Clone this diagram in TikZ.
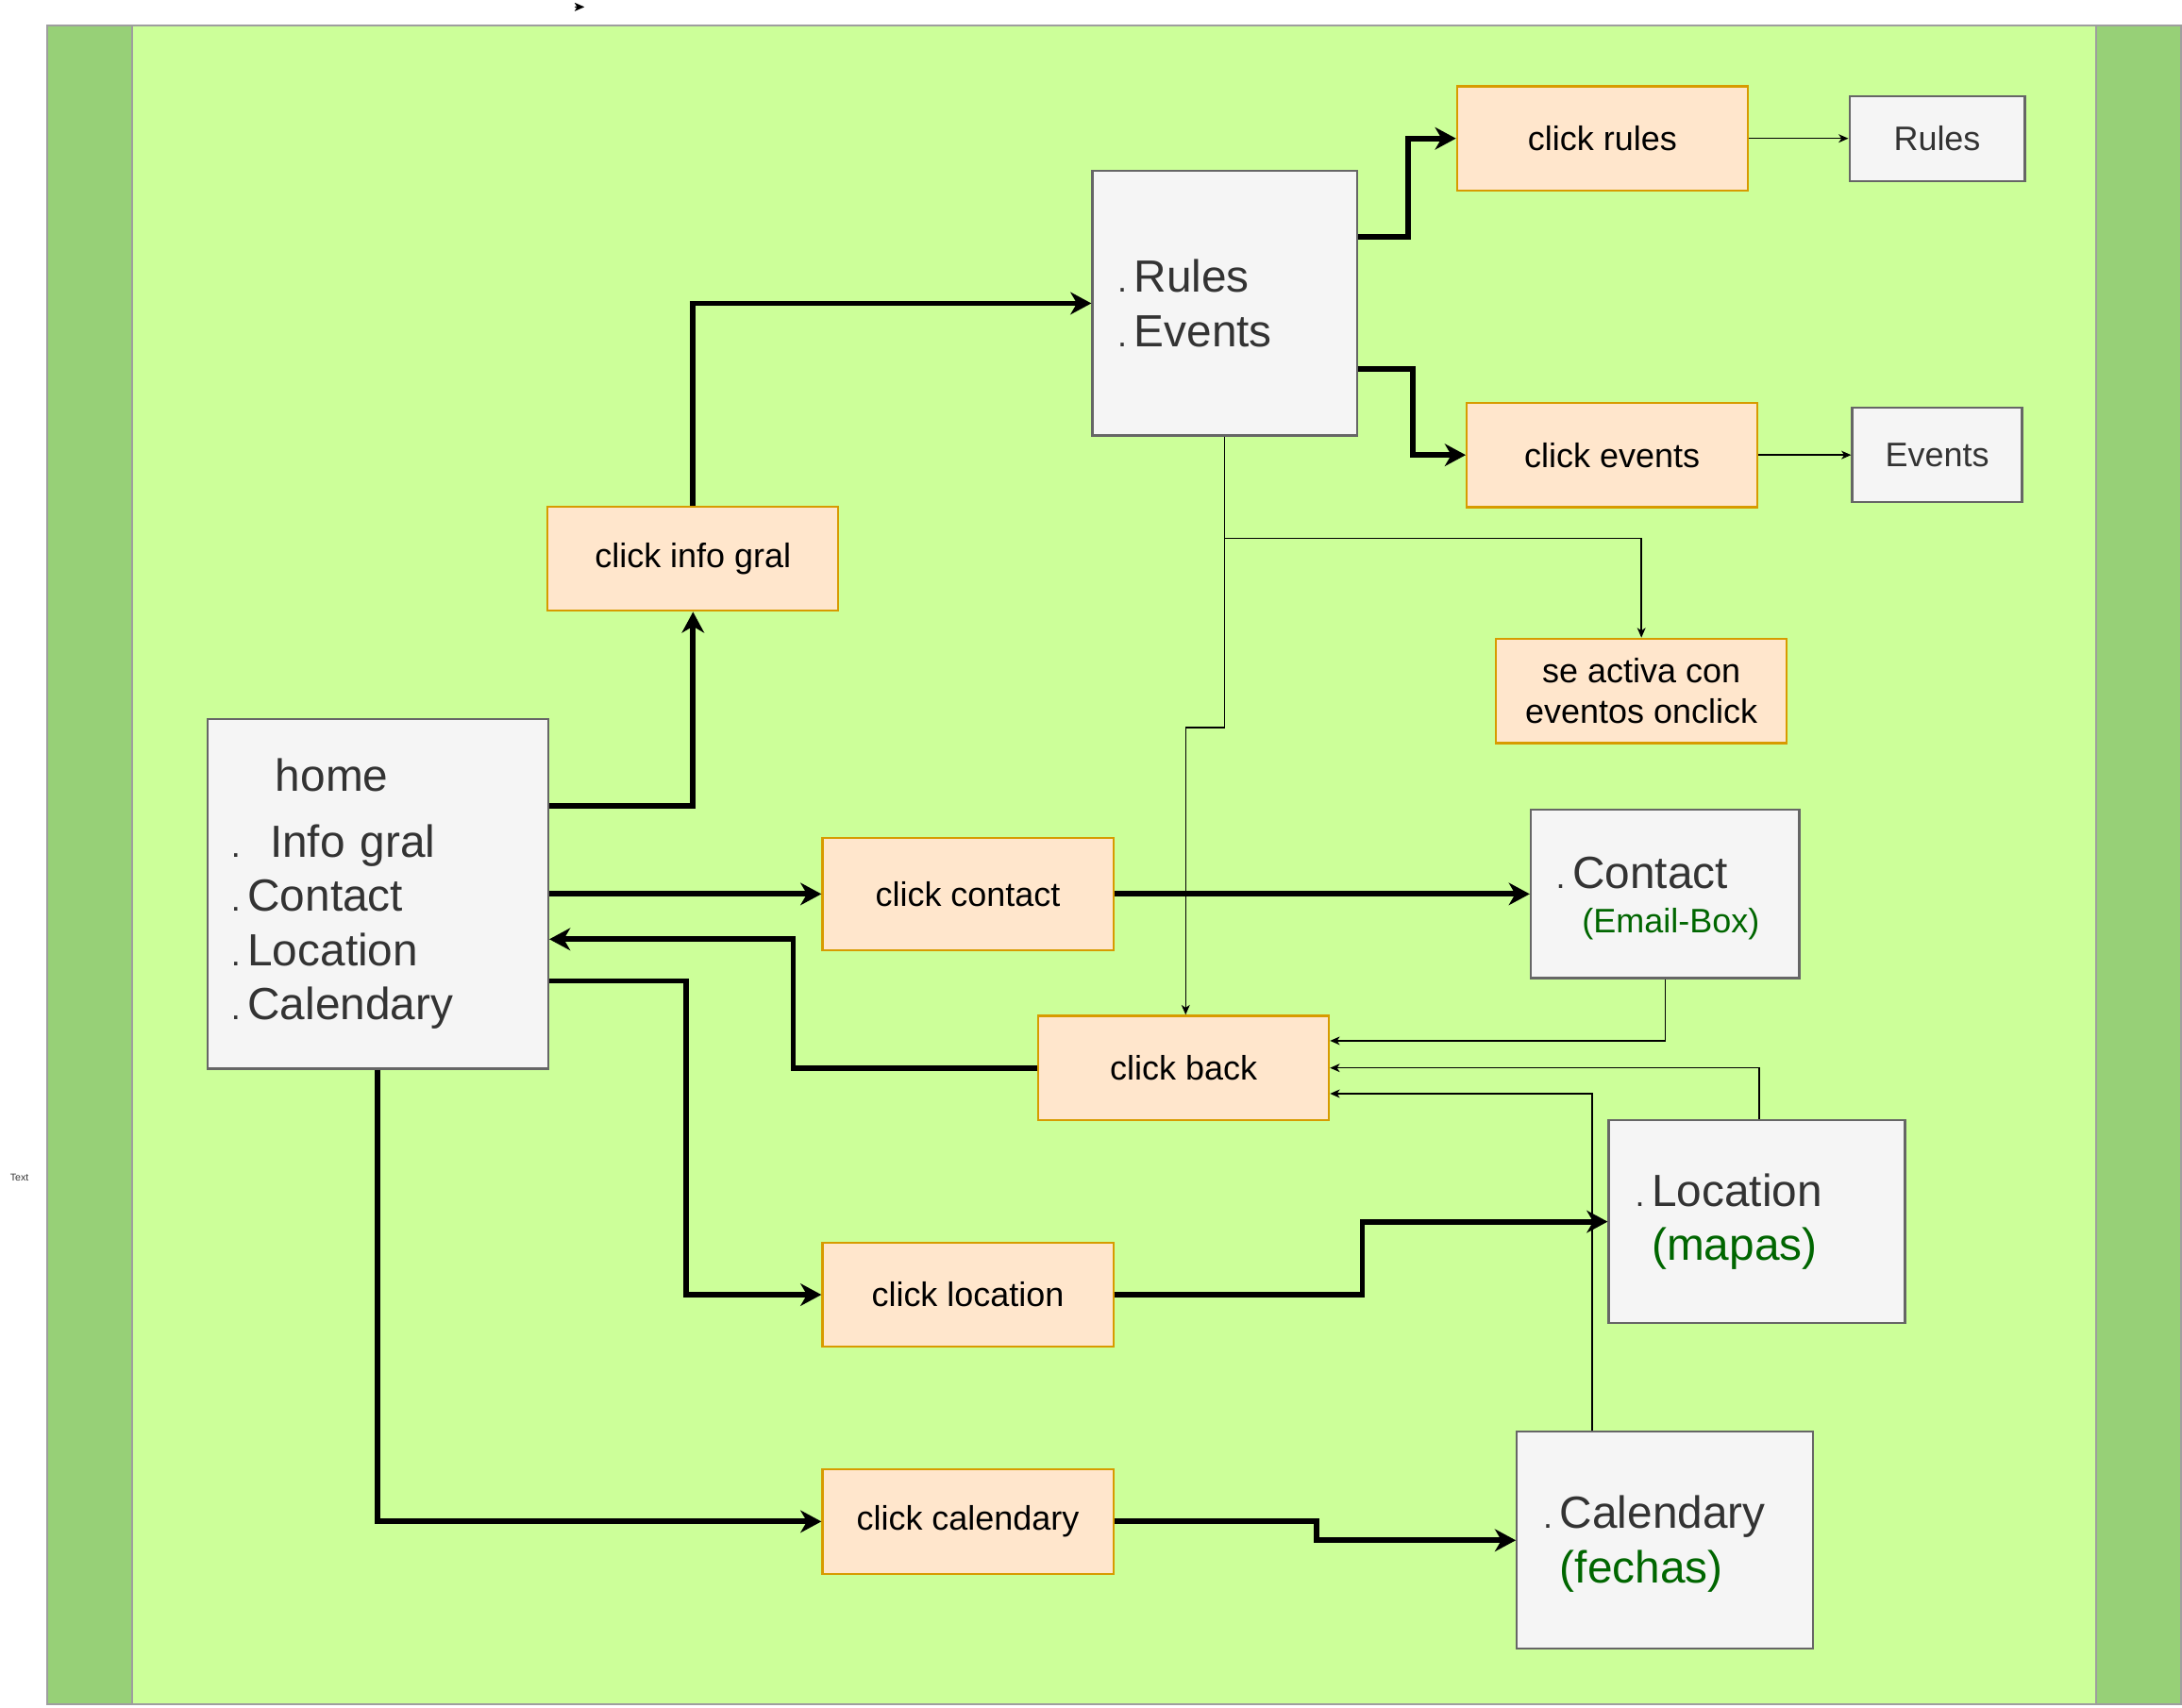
\documentclass[tikz,border=0pt]{standalone}
\usepackage{fontspec}
\setmainfont{Liberation Sans}
\usetikzlibrary{arrows.meta}
\definecolor{lgreen}{HTML}{CCFF99}
\definecolor{dgreen}{HTML}{97D077}
\definecolor{framec}{HTML}{9E9E9E}
\definecolor{gfill}{HTML}{F5F5F5}
\definecolor{gdraw}{HTML}{666666}
\definecolor{gtext}{HTML}{333333}
\definecolor{ofill}{HTML}{FFE6CC}
\definecolor{odraw}{HTML}{D79B00}
\definecolor{notec}{HTML}{006600}
\newcommand{\fsS}{\fontsize{12.2}{14.5}\selectfont}
\newcommand{\fsL}{\fontsize{16.2}{19.5}\selectfont}
\newcommand{\bdot}{{\fsS.}\hspace{2.6pt}}
\begin{document}
\begin{tikzpicture}[x=0.5pt,y=-0.5pt,
  obox/.style={draw=odraw,fill=ofill,line width=0.75pt,minimum width=104.5pt,minimum height=37.5pt,font=\fsS,text=black,align=center,inner sep=0pt},
  gbox/.style={draw=gdraw,fill=gfill,line width=0.75pt,text=gtext,inner ysep=0pt},
  gleft/.style={gbox,font=\fsL,align=left},
  bigarr/.style={line width=2pt,-{Stealth[length=7.5pt,width=8pt,inset=2.3pt]}},
  smallarr/.style={line width=0.5pt,-{Stealth[length=3.5pt,width=3pt,inset=1pt]}}]
\useasboundingbox (0,0) rectangle (1568,1227);
% container
\fill[lgreen] (34,18) rectangle (1567,1225);
\fill[dgreen] (34,18) rectangle (95,1225);
\fill[dgreen] (1506,18) rectangle (1567,1225);
\draw[framec,line width=0.7pt] (34,18) rectangle (1567,1225);
\draw[framec,line width=0.7pt] (95,18) -- (95,1225) (1506,18) -- (1506,1225);
% stray items
\coordinate (ta) at (413,5);
\coordinate (tb) at (420,5);
\draw[line width=0.5pt,-{Stealth[length=3.5pt,width=3pt,inset=0.8pt]}] (ta) -- (tb);
\node[font=\fontsize{3.6}{4}\selectfont,text=gtext,inner sep=0pt] (txt) at (14,846) {Text};
% gray boxes
\node[gleft,minimum width=122.5pt,minimum height=125.5pt,text width=105.5pt,inner xsep=8.5pt] (home) at (271.5,642.5)
  {\hspace*{16pt}home\\[4pt]\bdot\hspace{8pt}Info gral\\\bdot Contact\\\bdot Location\\\bdot Calendary};
\node[gleft,minimum width=95pt,minimum height=95pt,text width=77pt,inner xsep=9pt] (rev) at (880,218)
  {\bdot Rules\\\bdot Events};
\node[gleft,minimum width=96.5pt,minimum height=60.5pt,text width=78.5pt,inner xsep=9pt] (contact) at (1196.5,642.5)
  {\rule{0pt}{14.5pt}\bdot Contact\\[-3.5pt]\phantom{\bdot}\hspace{3.5pt}{\color{notec}\fsS(Email-Box)}};
\node[gleft,minimum width=106.5pt,minimum height=73pt,text width=87.5pt,inner xsep=9.5pt] (loc) at (1262.5,878)
  {\bdot Location\\\phantom{\bdot}{\color{notec}(mapas)}};
\node[gleft,minimum width=106.5pt,minimum height=78pt,text width=87.5pt,inner xsep=9.5pt] (cal) at (1196.5,1107)
  {\rule{0pt}{14.5pt}\bdot Calendary\\\phantom{\bdot}{\color{notec}(fechas)}};
\node[gbox,font=\fsS,minimum width=63pt,minimum height=30.5pt] (rulesbox) at (1392,99.5) {Rules};
\node[gbox,font=\fsS,minimum width=61pt,minimum height=34pt] (eventsbox) at (1392,327) {Events};
% orange boxes
\node[obox] (crules) at (1151.5,99.5) {click rules};
\node[obox] (cevents) at (1158.5,327) {click events};
\node[obox] (info) at (498,401.5) {click info gral};
\node[obox] (seact) at (1179.5,496.5) {se activa con\\eventos onclick};
\node[obox,minimum height=40.5pt] (ccontact) at (695.5,642.5) {click contact};
\node[obox] (back) at (850.5,767.5) {click back};
\node[obox] (cloc) at (695.5,930.5) {click location};
\node[obox] (ccal) at (695.5,1093.5) {click calendary};
% thick connectors
\draw[bigarr] (home.east |- 0,579) -| (info.south);
\draw[bigarr] (info.north) |- (rev.west);
\draw[bigarr] (rev.east |- 0,170) -- (1012,170) |- (crules.west);
\draw[bigarr] (rev.east |- 0,265) -- (1015,265) |- (cevents.west);
\draw[bigarr] (home.east) -- (ccontact.west);
\draw[bigarr] (ccontact.east) -- (contact.west);
\draw[bigarr] (back.west) -- (570,767.5) -- (570,675) -- (home.east |- 0,675);
\draw[bigarr] (home.east |- 0,705) -- (493,705) |- (cloc.west);
\draw[bigarr] (cloc.east) -- (979,930.5) |- (loc.west);
\draw[bigarr] (home.south) |- (ccal.west);
\draw[bigarr] (ccal.east) -- (946,1093.5) |- (cal.west);
% thin connectors
\draw[smallarr] (crules.east) -- (rulesbox.west);
\draw[smallarr] (cevents.east) -- (eventsbox.west);
\draw[smallarr] (rev.south) -- (rev.south |- 0,387) -| (seact.north);
\draw[smallarr] (rev.south) |- ([xshift=0.75pt]back.north |- 0,523) -- ([xshift=0.75pt]back.north);
\draw[smallarr] (contact.south) |- (back.east |- 0,748);
\draw[smallarr] ([xshift=0.75pt]loc.north) |- (back.east);
\draw[smallarr] (cal.north -| 1144,0) |- (back.east |- 0,786);
\end{tikzpicture}
\end{document}
